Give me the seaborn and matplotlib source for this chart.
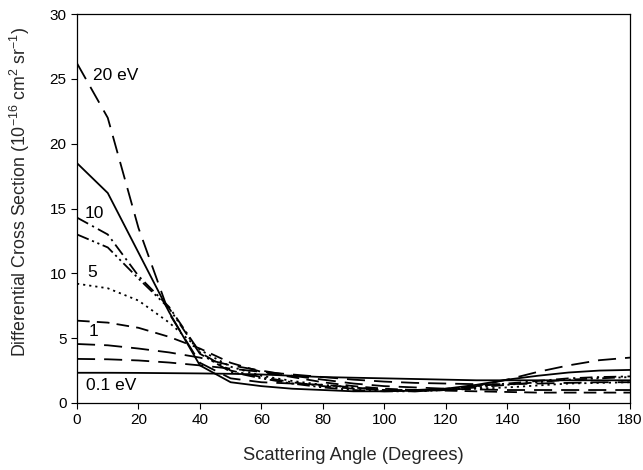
import matplotlib
matplotlib.use("Agg")
import matplotlib.pyplot as plt
import seaborn as sns
import pandas as pd

angles = [0, 10, 20, 30, 40, 50, 60, 70, 80, 90, 100, 110, 120, 130, 140, 150, 160, 170, 180]

e20 = [26.2, 22.0, 13.5, 6.9, 3.1, 1.9, 1.6, 1.5, 1.4, 1.2, 1.0, 0.9, 1.0, 1.3, 1.8, 2.4, 2.9, 3.3, 3.5]
e15 = [18.5, 16.2, 11.6, 7.0, 2.9, 1.6, 1.3, 1.1, 1.0, 0.9, 0.9, 0.95, 1.1, 1.4, 1.8, 2.1, 2.35, 2.5, 2.55]
e10 = [14.3, 13.0, 9.8, 7.4, 3.9, 2.5, 2.0, 1.6, 1.3, 1.1, 1.0, 1.0, 1.1, 1.3, 1.5, 1.7, 1.9, 2.0, 2.05]
e7 = [13.0, 12.0, 9.6, 7.3, 3.8, 2.4, 1.9, 1.5, 1.2, 1.0, 0.9, 0.9, 1.0, 1.2, 1.4, 1.6, 1.8, 1.9, 2.0]
e5 = [9.2, 8.85, 7.9, 6.2, 4.1, 2.8, 2.1, 1.7, 1.4, 1.2, 1.0, 0.95, 1.0, 1.1, 1.2, 1.35, 1.5, 1.55, 1.6]
e2 = [6.35, 6.2, 5.8, 5.1, 4.2, 3.1, 2.4, 2.0, 1.6, 1.3, 1.1, 1.0, 0.95, 0.9, 0.85, 0.8, 0.8, 0.8, 0.8]
e1 = [4.55, 4.45, 4.2, 3.9, 3.5, 2.9, 2.5, 2.1, 1.8, 1.5, 1.3, 1.2, 1.1, 1.05, 1.0, 1.0, 1.0, 1.0, 1.0]
e05 = [3.4, 3.37, 3.28, 3.12, 2.9, 2.65, 2.4, 2.2, 2.0, 1.8, 1.65, 1.55, 1.5, 1.45, 1.45, 1.5, 1.55, 1.6, 1.6]
e01 = [2.33, 2.33, 2.32, 2.3, 2.28, 2.25, 2.2, 2.1, 2.0, 1.95, 1.9, 1.85, 1.8, 1.75, 1.75, 1.75, 1.75, 1.75, 1.75]

series = [
    (e20, (0, (10, 5))),
    (e15, "-"),
    (e10, (0, (7, 2.5, 1.2, 2.5))),
    (e7, (0, (7, 2, 1.2, 2, 1.2, 2))),
    (e5, (0, (1.2, 2.2))),
    (e2, (0, (7, 4))),
    (e1, (0, (10, 5))),
    (e05, (0, (10, 5))),
    (e01, "-"),
]

labels = ["20 eV", "10", "5", "1", "0.1 eV"]
label_x = [5.2, 2.6, 3.2, 3.9, 2.9]
label_y = [25.3, 14.6, 10.1, 5.5, 1.35]

sns.set_theme(style="ticks")
plt.rcParams["font.family"] = ["Liberation Sans", "DejaVu Sans"]
plt.rcParams["mathtext.default"] = "regular"

fig = plt.figure(figsize=(6.43, 4.70), dpi=100)
ax = fig.add_axes([0.1198, 0.1426, 0.860, 0.8274])

for vals, ls in series:
    df = pd.DataFrame({"angle": angles, "dcs": vals})
    sns.lineplot(data=df, x="angle", y="dcs", ax=ax, color="black",
                 linewidth=1.3, linestyle=ls)

for t, x, y in zip(labels, label_x, label_y):
    ax.text(x, y, t, fontsize=12.5, va="center", ha="left", color="black")

ax.set_xlim(0, 180)
ax.set_ylim(0, 30)
ax.set_xticks(range(0, 181, 20))
ax.set_yticks(range(0, 31, 5))
ax.tick_params(direction="out", length=4, width=0.8, labelsize=11, colors="black")
for s in ax.spines.values():
    s.set_visible(True)
    s.set_color("black")
    s.set_linewidth(0.9)
ax.set_xlabel("Scattering Angle (Degrees)", fontsize=13.2)
ax.set_ylabel("Differential Cross Section (10$^{-16}$ cm$^{2}$ sr$^{-1}$)", fontsize=12.8)
ax.xaxis.set_label_coords(0.5, -0.112)
ax.yaxis.set_label_coords(-0.082, 0.544)

fig.savefig("out.png", dpi=100)
